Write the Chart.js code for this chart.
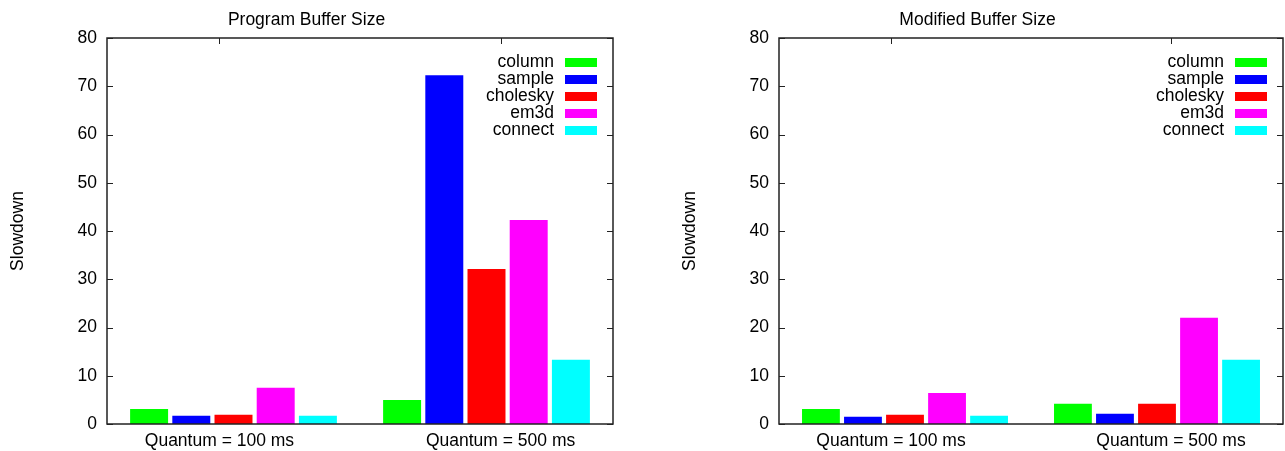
<!DOCTYPE html>
<html>
<head>
<meta charset="utf-8">
<script src="https://cdn.jsdelivr.net/npm/chart.js@4/dist/chart.umd.min.js"></script>
<style>
  body { margin: 0; background: #fff; }
  canvas { position: absolute; top: 0; }
</style>
</head>
<body>
<canvas id="left" width="615" height="451" style="left:0"></canvas>
<canvas id="right" width="613" height="451" style="left:672px"></canvas>
<script>
const categories = ['Quantum = 100 ms', 'Quantum = 500 ms']
const benchmarks = ['column', 'sample', 'cholesky', 'em3d', 'connect']
const colors = ['#00ff00', '#0000ff', '#ff0000', '#ff00ff', '#00ffff']

// values per benchmark, [100 ms, 500 ms]
const programBuffer = {
  column: [3.1, 5.0],
  sample: [1.7, 72.3],
  cholesky: [1.9, 32.1],
  em3d: [7.5, 42.3],
  connect: [1.7, 13.3]
}
const modifiedBuffer = {
  column: [3.1, 4.2],
  sample: [1.5, 2.1],
  cholesky: [1.9, 4.2],
  em3d: [6.4, 22.0],
  connect: [1.7, 13.3]
}
const yTicks = [0, 10, 20, 30, 40, 50, 60, 70, 80]
// gnuplot puts the xtic labels at 0 and 1 on a -0.4..1.4 range
const xTickPos = [0, 1]

Chart.defaults.font.family = '"Liberation Sans", Arial, sans-serif'
Chart.defaults.font.size = 17.5
Chart.defaults.color = '#000'

// box around the plot, inward ticks, legend inside top right
const frame = {
  id: 'frame',
  afterDraw(chart) {
    const ctx = chart.ctx
    const a = chart.chartArea
    const y = chart.scales.y
    const xl = chart.scales.xl
    ctx.save()
    ctx.strokeStyle = '#222'
    ctx.lineWidth = 1.5
    ctx.strokeRect(a.left, a.top, a.right - a.left, a.bottom - a.top)
    ctx.lineWidth = 1
    ctx.beginPath()
    yTicks.forEach(v => {
      const py = Math.round(y.getPixelForValue(v)) + 0.5
      ctx.moveTo(a.left, py); ctx.lineTo(a.left + 6, py)
      ctx.moveTo(a.right, py); ctx.lineTo(a.right - 6, py)
    })
    xTickPos.forEach(v => {
      const px = Math.round(xl.getPixelForValue(v)) + 0.5
      ctx.moveTo(px, a.top); ctx.lineTo(px, a.top + 6)
    })
    ctx.stroke()
    ctx.font = '17.5px "Liberation Sans", Arial, sans-serif'
    ctx.textAlign = 'right'
    ctx.textBaseline = 'middle'
    chart.data.datasets.forEach((ds, i) => {
      const ly = a.top + 24 + i * 17
      ctx.fillStyle = '#000'
      ctx.fillText(ds.label, a.right - 59, ly)
      ctx.fillStyle = ds.backgroundColor
      ctx.fillRect(a.right - 48, ly - 4, 32, 9)
    })
    ctx.restore()
  }
}

function makeChart(id, title, data) {
  return new Chart(document.getElementById(id), {
    type: 'bar',
    data: {
      labels: categories,
      datasets: benchmarks.map((b, i) => ({
        label: b,
        data: data[b],
        backgroundColor: colors[i],
        borderWidth: 0,
        categoryPercentage: 0.834,
        barPercentage: 0.9
      }))
    },
    options: {
      responsive: false,
      animation: false,
      layout: { padding: { right: 2, bottom: 0 } },
      plugins: {
        legend: { display: false },
        tooltip: { enabled: false },
        title: {
          display: true,
          text: title,
          font: { size: 17.5, weight: 'normal' },
          padding: { top: 10, bottom: 7 }
        }
      },
      scales: {
        x: {
          display: false
        },
        xl: {
          type: 'linear',
          position: 'bottom',
          offset: false,
          min: -0.4,
          max: 1.4,
          grid: { display: false, drawTicks: false, offset: false },
          border: { display: false },
          afterBuildTicks: s => { s.ticks = xTickPos.map(v => ({ value: v })) },
          ticks: { padding: 7, callback: v => categories[v] },
          afterFit: s => { s.height = 27 }
        },
        y: {
          min: 0,
          max: 80,
          grid: { display: false, drawTicks: false },
          border: { display: false },
          ticks: { stepSize: 10, padding: 10 },
          title: { display: true, text: 'Slowdown', font: { size: 17.5 }, padding: { top: 8 } },
          afterFit: s => { s.width = 107 }
        }
      }
    },
    plugins: [frame]
  })
}

makeChart('left', 'Program Buffer Size', programBuffer)
makeChart('right', 'Modified Buffer Size', modifiedBuffer)
</script>
</body>
</html>
